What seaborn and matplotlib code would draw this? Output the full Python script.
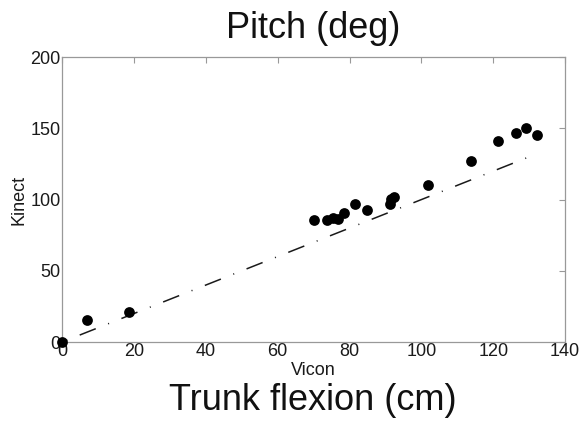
import matplotlib
matplotlib.use("Agg")
import matplotlib.pyplot as plt
import seaborn as sns
import numpy as np
import pandas as pd

# Measured trunk flexion (cm): Vicon reference vs. Kinect estimate
vicon = [0, 6.9, 18.7, 70.1, 73.7, 75.5, 76.7, 78.5, 81.6, 84.9,
         91.2, 91.5, 92.5, 101.8, 113.8, 121.3, 126.3, 129.1, 132.1]
kinect = [0, 15.4, 21.3, 85.4, 85.6, 87.2, 86.1, 90.3, 97.1, 92.4,
          97.0, 100.5, 102.0, 110.2, 127.0, 141.0, 146.4, 150.0, 145.5]

x_ticks = [0, 20, 40, 60, 80, 100, 120, 140]
y_ticks = [0, 50, 100, 150, 200]

sns.set_style("white")
plt.rcParams["font.family"] = ["Liberation Sans", "DejaVu Sans"]

df = pd.DataFrame({"Vicon": vicon, "Kinect": kinect})

# line of identity over the measured range
ident = pd.DataFrame({"x": [min(vicon), max(vicon)]})
ident["y"] = ident["x"]

fig = plt.figure(figsize=(5.81, 4.26), dpi=100)
ax = fig.add_axes([0.1067, 0.197, 0.866, 0.669])

lw = 1.1
sns.lineplot(data=ident, x="x", y="y", ax=ax, color="#1a1a1a", linewidth=lw,
             linestyle=(16.9, (11.3, 8.7, 0.67, 8.7)), zorder=2)
sns.scatterplot(data=df, x="Vicon", y="Kinect", ax=ax, color="black",
                s=60, edgecolor="black", linewidth=0, zorder=3, clip_on=False)

ax.set_xlim(0, 140)
ax.set_ylim(0, 200)
ax.set_xticks(x_ticks)
ax.set_yticks(y_ticks)
ax.tick_params(axis="both", direction="in", length=4, width=0.8,
               color="#999999", labelsize=13, top=True, right=True,
               labelcolor="#1a1a1a", pad=1)
for sp in ax.spines.values():
    sp.set_visible(True)
    sp.set_color("#999999")
    sp.set_linewidth(0.9)

ax.set_xlabel("Vicon", fontsize=13, labelpad=1, color="#1a1a1a")
ax.set_ylabel("Kinect", fontsize=13, labelpad=2, color="#1a1a1a")

fig.text(0.539, 0.934, "Pitch (deg)", ha="center", va="center",
         fontsize=26, color="#111111")
fig.text(0.539, 0.061, "Trunk flexion (cm)", ha="center", va="center",
         fontsize=26, color="#111111")

fig.savefig("out.png", dpi=100, facecolor="white")
